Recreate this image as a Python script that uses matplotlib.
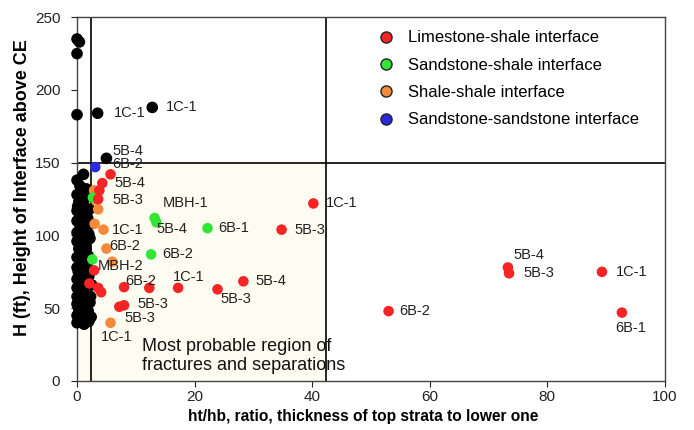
import matplotlib
matplotlib.use("Agg")
import matplotlib.pyplot as plt
from matplotlib.lines import Line2D
from matplotlib.patches import Rectangle

plt.rcParams['font.family'] = ['Liberation Sans', 'DejaVu Sans']

# ht/hb ratio and interface height H (ft) per interface type
lime_x = [5.7, 4.3, 3.8, 3.6, 40.2, 34.8, 28.3, 23.9, 17.2, 12.3, 2.9, 2.1,
          3.6, 4.1, 8.0, 7.2, 8.0, 73.3, 73.5, 89.3, 92.7, 53.0]
lime_y = [142, 136, 131, 125, 122, 104, 68.5, 63, 64, 64, 76, 67,
          64, 61, 64.5, 51, 52, 78, 74, 75, 47, 48]

sand_x = [13.2, 13.5, 22.2, 12.6, 2.6, 2.7]
sand_y = [112, 109, 105, 87, 83.5, 126]

shale_x = [2.9, 3.3, 3.6, 3.0, 4.5, 5.0, 6.0, 5.7]
shale_y = [131, 124, 118, 108, 104, 91, 82, 40]

ss_x = [3.1]
ss_y = [147]

other_x = [0, 0.4, 0, 0, 3.5, 12.8, 5.0, 1.1,
           0, 0.5, 1, 0, 1.5, 0.3, 1.2, 0, 0.8, 1.8, 0, 0.5, 1.3, 0, 2, 0.7,
           0, 1.4, 0.3, 1, 0, 0.6, 1.7, 0, 1.1, 0.4, 2, 0, 0.9, 1.6, 0, 0.5,
           1.3, 0, 2.1, 0.8, 0, 1.5, 0.3, 1, 0, 1.8, 0.6, 0, 1.2, 2, 1.9, 2.2,
           1.9, 2.1, 1.6, 0.2, 0.9, 1.2, 0.4, 1.5, 2.4, 2.3, 2.5, 2.2, 2.4, 0.1,
           0.2, 0.1, 1.0, 2.3]
other_y = [235, 233, 225, 183, 184, 188, 153, 142,
           138, 134, 131, 128, 126, 123, 120, 117, 114, 112, 110, 107, 105, 102, 101, 99,
           96, 94, 91, 88, 85, 82, 80, 78, 76, 74, 72, 70, 68, 66, 64, 62,
           60, 58, 57, 55, 53, 51, 49, 47, 45, 44, 42, 40, 39, 41, 48, 54,
           86, 118, 132, 100, 60, 71, 112, 91, 44, 58, 66, 98, 108, 120,
           75, 52, 95, 127]

# borehole labels: (text, x, y of the point it belongs to)
labels = [("1C-1", 3.5, 184), ("1C-1", 12.8, 188), ("5B-4", 5.0, 153),
          ("6B-2", 3.1, 147), ("5B-4", 4.3, 136), ("5B-3", 3.6, 125),
          ("MBH-1", 13.2, 112), ("5B-4", 13.5, 109), ("6B-1", 22.2, 105),
          ("1C-1", 4.5, 104), ("6B-2", 5.0, 91), ("6B-2", 12.6, 87),
          ("MBH-2", 2.9, 76), ("1C-1", 17.2, 64), ("6B-2", 12.3, 64),
          ("5B-3", 7.2, 51), ("5B-3", 8.0, 52), ("1C-1", 5.7, 40),
          ("5B-3", 23.9, 63), ("5B-4", 28.3, 68.5), ("5B-3", 34.8, 104),
          ("1C-1", 40.2, 122), ("6B-2", 53.0, 48), ("5B-4", 73.3, 78),
          ("5B-3", 73.5, 74), ("1C-1", 89.3, 75), ("6B-1", 92.7, 47)]
# label offsets in points
offsets = [(12, 0), (10, 0), (4, 5), (12, 2), (9, 0), (10, -1),
           (6, 11), (0, -5), (8, 0), (6, 0), (2, 2), (8, 0),
           (3, 3), (-4, 8), (-17, 5), (13, 2), (0, -9), (-7, -10),
           (2, -7), (9, 0), (9, 0), (9, 0), (8, 0), (4, 9),
           (10, 0), (10, 0), (-5, -11)]

fig = plt.figure(figsize=(6.94, 4.30), dpi=100)
ax = fig.add_axes([0.111, 0.114, 0.847, 0.846])

ax.set_xlim(0, 100)
ax.set_ylim(0, 250)

# shaded zone of likely fracturing
ax.add_patch(Rectangle((0, 0), 42.3, 150, facecolor='#fdfcf0', edgecolor='none', zorder=0))
ax.axvline(2.3, color='black', lw=1.2, zorder=1)
ax.axvline(42.3, color='black', lw=1.2, zorder=1)
ax.axhline(150, color='black', lw=1.2, zorder=1)

ms = 58
ax.scatter(other_x, other_y, s=70, color='black', edgecolors='none', zorder=3, clip_on=False)
ax.scatter(shale_x, shale_y, s=ms, color='#f58a3a', edgecolors='none', zorder=4)
ax.scatter(sand_x, sand_y, s=ms, color='#33e633', edgecolors='none', zorder=4)
ax.scatter(lime_x, lime_y, s=ms, color='#f52525', edgecolors='none', zorder=4)
ax.scatter(ss_x, ss_y, s=ms, color='#2a2ae0', edgecolors='none', zorder=5)

for (txt, x, y), (dx, dy) in zip(labels, offsets):
    ax.annotate(txt, (x, y), xytext=(dx, dy), textcoords='offset points',
                fontsize=10.5, color='#222222', va='center', ha='left', zorder=6)

ax.text(11, 17, "Most probable region of\nfractures and separations",
        fontsize=13, color='#111111', va='center', ha='left', linespacing=1.15, zorder=6)

handles = [
    Line2D([], [], ls='none', marker='o', ms=8, mfc='#f52525', mec='#222222', mew=1),
    Line2D([], [], ls='none', marker='o', ms=8, mfc='#33e633', mec='#222222', mew=1),
    Line2D([], [], ls='none', marker='o', ms=8, mfc='#f58a3a', mec='#222222', mew=1),
    Line2D([], [], ls='none', marker='o', ms=8, mfc='#2a2ae0', mec='#222222', mew=1),
]
names = ["Limestone-shale interface", "Sandstone-shale interface",
         "Shale-shale interface", "Sandstone-sandstone interface"]
ax.legend(handles, names, loc='upper left', bbox_to_anchor=(0.50, 0.982),
          frameon=False, fontsize=12, handletextpad=0.8, labelspacing=0.74,
          handlelength=1.0, borderaxespad=0)

ax.set_xticks([0, 20, 40, 60, 80, 100])
ax.set_yticks([0, 50, 100, 150, 200, 250])
ax.tick_params(direction='out', length=4, labelsize=11, colors='#222222')
ax.tick_params(axis='y', pad=8)
ax.tick_params(axis='x', pad=2.5)
for sp in ax.spines.values():
    sp.set_color('#444444')
    sp.set_linewidth(1.0)

ax.set_xlabel("ht/hb, ratio, thickness of top strata to lower one",
              fontsize=11.2, fontweight='bold')
ax.set_ylabel("H (ft), Height of Interface above CE",
              fontsize=13, fontweight='bold')
ax.xaxis.set_label_coords(0.486, -0.077)
ax.yaxis.set_label_coords(-0.078, 0.533)

fig.savefig("out.png", dpi=100)
